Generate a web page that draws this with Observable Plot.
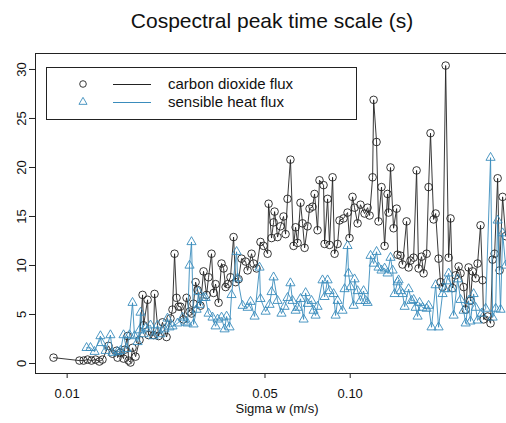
<!DOCTYPE html>
<html><head><meta charset="utf-8">
<script src="https://cdn.jsdelivr.net/npm/d3@7"></script>
<script src="https://cdn.jsdelivr.net/npm/@observablehq/plot@0.6"></script>
<style>
body{margin:0;background:#fff;font-family:"Liberation Sans",Arial,sans-serif;overflow:hidden}
#title{box-sizing:border-box;width:506px;height:40px;line-height:41px;font-size:21px;padding-left:38px;text-align:center;color:#111;white-space:nowrap}
</style></head><body>
<div id="title">Cospectral peak time scale (s)</div>
<div id="chart"></div>
<script>
const co2Sigma=[0.00895,0.01105,0.01143,0.01181,0.01219,0.0126,0.013,0.01333,0.014,0.01446,
0.01495,0.01507,0.01543,0.01582,0.01595,0.01635,0.01648,0.01674,0.01702,0.01745,
0.01802,0.01847,0.01862,0.01924,0.01939,0.0202,0.02036,0.02103,0.02172,0.02245,
0.02317,0.02356,0.02396,0.02435,0.02475,0.02514,0.02578,0.02642,0.02706,0.0275,
0.02796,0.02843,0.02889,0.02958,0.03033,0.03109,0.03159,0.03236,0.03291,0.03345,
0.03427,0.03511,0.0357,0.03629,0.03688,0.03776,0.03872,0.03937,0.04033,0.04132,
0.04271,0.0434,0.04482,0.04557,0.0467,0.0482,0.04943,0.05107,0.05148,0.05274,
0.05362,0.05406,0.05538,0.0567,0.05814,0.0591,0.06006,0.0615,0.06308,0.06413,
0.06518,0.06675,0.06788,0.06901,0.07071,0.07184,0.07362,0.07484,0.07667,0.07789,
0.08051,0.08118,0.08319,0.08453,0.08664,0.08808,0.09024,0.09168,0.09474,0.09786,
0.09942,0.1019,0.1036,0.1062,0.1087,0.1124,0.1152,0.1171,0.12,0.121,
0.1239,0.1259,0.129,0.1323,0.1355,0.1366,0.1388,0.1423,0.1459,0.147,
0.1506,0.1531,0.1582,0.1608,0.1633,0.1675,0.1716,0.1744,0.1787,0.1817,
0.1862,0.1892,0.1922,0.1971,0.2004,0.2052,0.2085,0.212,0.2174,0.2227,
0.2262,0.23,0.2358,0.2416,0.2454,0.2516,0.2558,0.262,0.2661,0.2706,
0.2774,0.2819,0.2887,0.2936,0.296,0.3059,0.3132,0.3185,0.3238,0.3318,
0.3371,0.3455,0.3541];
const co2Tau=[0.6,0.3,0.3,0.4,0.3,0.4,0.2,0.4,1.8,1.0,
1.3,0.6,1.1,0.5,1.4,2.8,0.3,0.1,1.6,0.7,
2.4,7.0,3.9,6.5,2.9,2.9,7.1,2.8,4.2,2.7,
4.6,5.5,11.2,6.7,5.8,5.8,4.5,6.7,5.3,5.1,
6.1,8.3,7.5,5.9,9.4,7.0,8.8,11.2,7.2,8.1,
6.2,10.2,9.7,7.8,8.1,8.8,12.9,8.3,8.6,10.7,
10.4,9.5,11.2,10.2,9.7,12.4,12.0,11.2,16.3,12.8,
14.4,15.5,12.9,14.0,15.0,13.2,16.8,20.8,12.0,13.9,
12.3,16.4,14.3,11.8,14.0,15.8,16.0,17.3,13.6,18.7,
18.2,12.2,16.8,12.1,19.0,11.2,12.2,14.6,14.8,15.4,
12.8,17.0,15.9,14.3,16.2,15.3,15.9,15.1,19.0,26.9,
22.6,14.5,18.0,12.0,17.3,15.4,20.0,13.8,15.8,11.1,
11.0,10.1,14.5,9.8,10.5,10.8,19.7,9.7,10.9,9.2,
11.2,18.0,23.5,14.7,15.3,10.7,8.3,7.8,30.4,10.8,
14.8,7.7,9.0,9.9,9.2,7.8,5.5,9.8,6.4,9.4,
8.7,10.2,14.1,8.5,4.5,4.8,4.1,10.6,11.2,18.9,
9.5,17.0,13.0];
const heatSigma=[0.01171,0.01209,0.0125,0.01311,0.01322,0.01367,0.01422,0.01446,0.01507,0.01543,
0.01582,0.01622,0.01661,0.01702,0.0173,0.01773,0.01802,0.01816,0.01862,0.01893,
0.0197,0.0202,0.02086,0.02136,0.02208,0.02263,0.02299,0.02356,0.02455,0.02557,
0.0262,0.02663,0.02706,0.0275,0.02796,0.02866,0.02912,0.02935,0.03033,0.03084,
0.03159,0.03263,0.03345,0.034,0.03511,0.03599,0.03658,0.03747,0.03808,0.03969,
0.04001,0.04166,0.0434,0.04444,0.04594,0.04782,0.0482,0.05025,0.05189,0.05274,
0.05362,0.05538,0.05718,0.05862,0.06006,0.0615,0.06255,0.06413,0.06518,0.06675,
0.06845,0.06958,0.07071,0.07301,0.07423,0.07545,0.07667,0.07984,0.08118,0.08319,
0.08453,0.08736,0.0888,0.09024,0.09396,0.09552,0.09786,0.09864,0.1002,0.1028,
0.1036,0.1062,0.1087,0.1115,0.1134,0.1152,0.118,0.121,0.1239,0.1259,
0.129,0.1323,0.1355,0.1388,0.1412,0.1435,0.147,0.1482,0.1506,0.1531,
0.1557,0.1608,0.1647,0.1675,0.1703,0.173,0.1758,0.1802,0.1862,0.1892,
0.1938,0.2004,0.2052,0.212,0.2156,0.2191,0.2227,0.2281,0.2319,0.2397,
0.2454,0.2516,0.2558,0.262,0.2661,0.2729,0.2774,0.2819,0.2912,0.301,
0.3132,0.3185,0.3265,0.3318,0.3397,0.3455,0.3541];
const heatTau=[1.6,1.6,1.2,2.8,2.1,1.3,2.9,1.1,1.2,1.3,
2.9,1.5,2.9,6.2,2.8,2.2,3.4,5.2,3.0,3.6,
3.9,2.8,3.9,3.0,3.5,4.6,3.7,3.8,4.1,4.7,
4.2,4.1,10.0,12.4,4.0,5.5,7.3,6.0,6.7,6.7,
5.1,4.7,3.8,4.5,4.7,3.5,4.8,3.7,7.0,11.4,
8.7,5.9,5.7,6.3,4.8,9.8,6.6,5.3,6.0,7.3,
8.8,6.4,5.1,5.8,6.7,8.2,6.4,5.4,5.7,6.6,
4.5,7.2,6.1,6.4,5.4,4.9,5.8,8.5,6.8,8.5,
7.4,7.1,4.9,6.4,5.4,7.6,12.0,9.2,7.8,5.9,
8.6,7.4,6.4,7.4,6.4,6.2,11.0,10.2,11.4,9.8,
9.5,9.7,9.2,10.8,9.5,7.1,8.3,8.5,7.4,7.1,
5.8,7.6,6.4,6.5,5.7,4.8,6.2,5.7,5.6,5.9,
3.7,8.0,3.7,7.1,7.6,8.4,9.2,7.6,4.9,8.6,
6.5,5.4,4.1,6.4,4.3,7.1,5.7,4.4,5.1,5.6,
21.0,4.7,5.6,14.6,5.5,13.3,10.0];
const xTicks=[0.01,0.05,0.10];
const xTickLabels=["0.01","0.05","0.10"];
const yTicks=[0,5,10,15,20,25,30];
const seriesNames=["carbon dioxide flux","sensible heat flux"];
const xLabel="Sigma w (m/s)";

const co2Color="#222", heatColor="#3a8cbc";
const co2=co2Sigma.map((s,i)=>({s,t:co2Tau[i]}));
const heat=heatSigma.map((s,i)=>({s,t:heatTau[i]}));
const xDom=[0.00773,0.3566], yDom=[-1.02,31.63];
const font="Liberation Sans, Arial, sans-serif";

const plot=Plot.plot({
  width:506,height:383,marginTop:13,marginBottom:50,marginLeft:35,marginRight:0,
  style:{fontFamily:font,fontSize:"13px",background:"white",color:"#222",overflow:"visible"},
  x:{type:"log",domain:xDom},
  y:{domain:yDom},
  marks:[
    Plot.ruleX([xDom[0]],{stroke:"#222"}),
    Plot.ruleY([yDom[0],yDom[1]],{stroke:"#222"}),
    Plot.axisX({ticks:xTicks,tickFormat:d=>xTickLabels[xTicks.indexOf(d)],tickSize:5,tickPadding:10,fontSize:13,label:null,fill:"#111"}),
    Plot.axisY({ticks:yTicks,tickSize:6,tickFormat:()=>"",label:null}),
    Plot.text(yTicks,{y:d=>d,text:d=>String(d),frameAnchor:"left",dx:-13.5,rotate:-90,fontSize:13,textAnchor:"middle",lineAnchor:"middle",fill:"#111"}),
    Plot.line(co2,{x:"s",y:"t",stroke:co2Color,strokeWidth:0.9}),
    Plot.dot(co2,{x:"s",y:"t",r:3.8,stroke:co2Color,fill:"none",strokeWidth:0.9}),
    Plot.line(heat,{x:"s",y:"t",stroke:heatColor,strokeWidth:0.9}),
    Plot.dot(heat,{x:"s",y:"t",symbol:"triangle",r:3.4,stroke:heatColor,fill:"none",strokeWidth:0.9})
  ]
});
document.getElementById("chart").appendChild(plot);

const svg=d3.select(plot);
svg.append("text").attr("x",277).attr("y",372.5).attr("text-anchor","middle")
  .attr("font-size",13).attr("font-family",font).attr("fill","#111").text(xLabel);
const lg=svg.append("g");
lg.append("rect").attr("x",46.5).attr("y",27.5).attr("width",310).attr("height",52)
  .attr("fill","white").attr("stroke","#222");
const rows=[44,62];
lg.append("circle").attr("cx",83).attr("cy",rows[0]).attr("r",3.3).attr("fill","none").attr("stroke",co2Color).attr("stroke-width",0.9);
lg.append("path").attr("d",d3.symbol(d3.symbolTriangle,Math.PI*3.0*3.0)()).attr("transform",`translate(83,${rows[1]})`)
  .attr("fill","none").attr("stroke",heatColor).attr("stroke-width",0.9);
[co2Color,heatColor].forEach((c,i)=>{
  lg.append("line").attr("x1",113).attr("x2",151).attr("y1",rows[i]+0.5).attr("y2",rows[i]+0.5).attr("stroke",c).attr("stroke-width",1);
  lg.append("text").attr("x",168).attr("y",rows[i]).attr("dy","0.35em").attr("font-size",15)
    .attr("text-anchor","start").attr("font-family",font).attr("fill","#111").text(seriesNames[i]);
});
</script>
</body></html>
